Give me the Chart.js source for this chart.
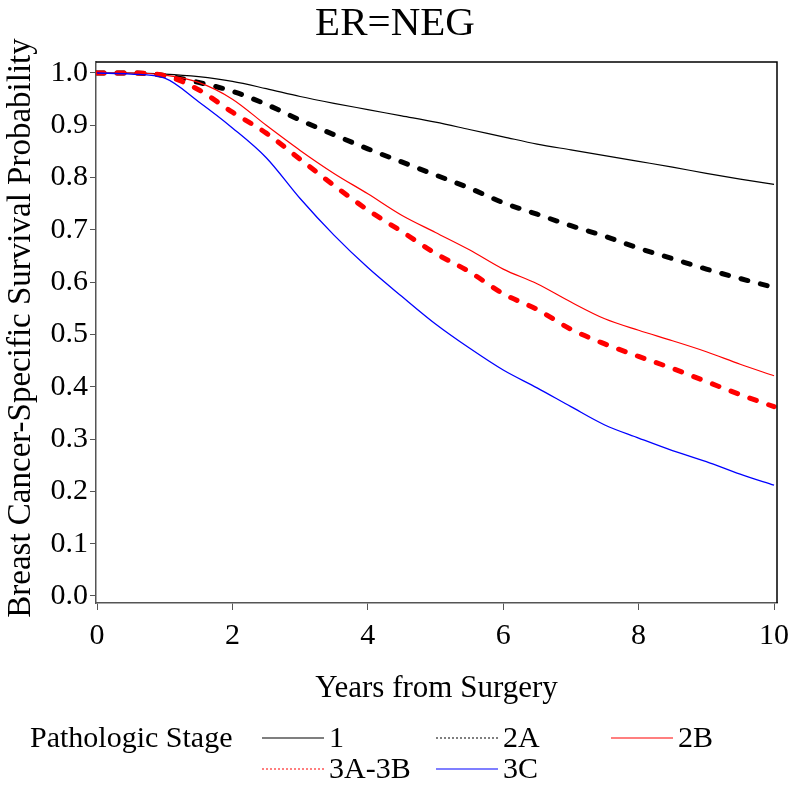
<!DOCTYPE html>
<html>
<head>
<meta charset="utf-8">
<title>ER=NEG</title>
<script src="https://cdn.jsdelivr.net/npm/chart.js@4.4.1/dist/chart.umd.min.js"></script>
<style>
  html, body { margin: 0; padding: 0; background: #fff; }
  canvas { display: block; }
</style>
</head>
<body>
<canvas id="survChart" width="791" height="788"></canvas>
<script>
// Breast cancer-specific survival, ER negative, by pathologic stage

const years = [0, 0.5, 1, 1.5, 2, 2.5, 3, 3.5, 4, 4.5, 5, 5.5, 6, 6.5, 7, 7.5, 8, 8.5, 9, 9.5, 10];

const stage1   = [1.0, 1.0, 0.998, 0.993, 0.984, 0.970, 0.955, 0.942, 0.930, 0.918, 0.906, 0.892, 0.878, 0.864, 0.853, 0.842, 0.831, 0.820, 0.808, 0.797, 0.787];
const stage2A  = [1.0, 1.0, 0.995, 0.982, 0.965, 0.940, 0.910, 0.882, 0.855, 0.830, 0.805, 0.780, 0.752, 0.730, 0.708, 0.688, 0.665, 0.645, 0.625, 0.607, 0.590];
const stage2B  = [1.0, 1.0, 0.996, 0.982, 0.950, 0.900, 0.852, 0.808, 0.769, 0.728, 0.695, 0.662, 0.625, 0.597, 0.562, 0.530, 0.508, 0.488, 0.467, 0.443, 0.421];
const stage3AB = [1.0, 1.0, 0.995, 0.968, 0.925, 0.885, 0.835, 0.785, 0.738, 0.697, 0.655, 0.620, 0.578, 0.548, 0.510, 0.482, 0.458, 0.435, 0.410, 0.385, 0.362];
const stage3C  = [1.0, 0.998, 0.990, 0.945, 0.895, 0.838, 0.760, 0.690, 0.628, 0.573, 0.520, 0.474, 0.432, 0.398, 0.362, 0.327, 0.302, 0.278, 0.257, 0.233, 0.212];

const xTicks = [0, 2, 4, 6, 8, 10];
const yTicks = [0, 0.1, 0.2, 0.3, 0.4, 0.5, 0.6, 0.7, 0.8, 0.9, 1.0];

const serif = '"Liberation Serif", "Times New Roman", serif';

function points(values) {
    return values.map((v, i) => ({ x: years[i], y: v }));
}

function makeSeries(label, values, color, width, dash, legendDash, order) {
    return {
        label: label,
        data: points(values),
        borderColor: color,
        borderWidth: width,
        borderDash: dash,
        borderCapStyle: dash.length ? 'round' : 'butt',
        legendDash: legendDash,
        pointRadius: 0,
        fill: false,
        cubicInterpolationMode: 'monotone',
        order: order
    };
}

const datasets = [
    makeSeries('1', stage1, '#000000', 1.2, [], [], 5),
    makeSeries('2A', stage2A, '#000000', 5, [7, 13], [2, 2], 4),
    makeSeries('2B', stage2B, '#ff0000', 1.2, [], [], 3),
    makeSeries('3A-3B', stage3AB, '#ff0000', 5, [7, 13], [2, 2], 2),
    makeSeries('3C', stage3C, '#0000ff', 1.3, [], [], 1)
];

// Title, axis titles, frame and the legend are drawn here
const decorations = {
    id: 'decorations',
    afterDraw(chart) {
        const ctx = chart.ctx;
        const area = chart.chartArea;
        ctx.save();

        // top and right edges of the plot frame
        ctx.strokeStyle = '#000';
        ctx.lineWidth = 1.5;
        ctx.beginPath();
        ctx.moveTo(area.left, area.top);
        ctx.lineTo(area.right, area.top);
        ctx.lineTo(area.right, area.bottom);
        ctx.stroke();

        ctx.fillStyle = '#000';
        ctx.textAlign = 'center';
        ctx.textBaseline = 'middle';

        ctx.font = '41px ' + serif;
        ctx.fillText('ER=NEG', 395, 24);

        ctx.font = '31px ' + serif;
        ctx.fillText('Years from Surgery', (area.left + area.right) / 2, 689);

        ctx.save();
        ctx.font = '33px ' + serif;
        ctx.translate(21, 328);
        ctx.rotate(-Math.PI / 2);
        ctx.fillText('Breast Cancer-Specific Survival Probability', 0, 0);
        ctx.restore();

        // legend
        ctx.font = '30px ' + serif;
        ctx.textAlign = 'left';
        ctx.fillText('Pathologic Stage', 30, 739);
        const slots = [
            { x: 262, y: 738 }, { x: 436, y: 738 }, { x: 611, y: 738 },
            { x: 262, y: 769 }, { x: 436, y: 769 }
        ];
        chart.data.datasets.forEach((ds, i) => {
            const s = slots[i];
            ctx.strokeStyle = ds.borderColor;
            ctx.lineWidth = 1.2;
            ctx.setLineDash(ds.legendDash);
            ctx.beginPath();
            ctx.moveTo(s.x, s.y);
            ctx.lineTo(s.x + 62, s.y);
            ctx.stroke();
            ctx.setLineDash([]);
            ctx.fillText(ds.label, s.x + 67, s.y + 1);
        });

        ctx.restore();
    }
};

new Chart(document.getElementById('survChart').getContext('2d'), {
    type: 'line',
    data: { datasets: datasets },
    options: {
        responsive: false,
        animation: false,
        layout: { padding: { top: 62, right: 14, left: 0, bottom: 0 } },
        plugins: {
            legend: { display: false },
            title: { display: false },
            tooltip: { enabled: false }
        },
        scales: {
            x: {
                type: 'linear',
                min: -0.015,
                max: 10.044,
                afterBuildTicks: scale => { scale.ticks = xTicks.map(v => ({ value: v })); },
                afterFit: scale => {
                    scale.height = 185;
                    scale.paddingLeft = 0;
                    scale.paddingRight = 0;
                },
                grid: { drawOnChartArea: false, drawTicks: true, tickLength: 7, color: '#555' },
                border: { display: true, color: '#555', width: 1.5 },
                ticks: {
                    color: '#000',
                    padding: 8,
                    maxRotation: 0,
                    font: { family: serif, size: 30 },
                    callback: v => String(v)
                }
            },
            y: {
                min: -0.0134,
                max: 1.021,
                afterBuildTicks: scale => { scale.ticks = yTicks.map(v => ({ value: v })); },
                afterFit: scale => {
                    scale.width = 96;
                    scale.paddingTop = 0;
                    scale.paddingBottom = 0;
                },
                grid: { drawOnChartArea: false, drawTicks: true, tickLength: 6, color: '#555' },
                border: { display: true, color: '#555', width: 1.5 },
                ticks: {
                    color: '#000',
                    padding: 2,
                    font: { family: serif, size: 30 },
                    callback: v => v.toFixed(1)
                }
            }
        }
    },
    plugins: [decorations]
});
</script>
</body>
</html>
